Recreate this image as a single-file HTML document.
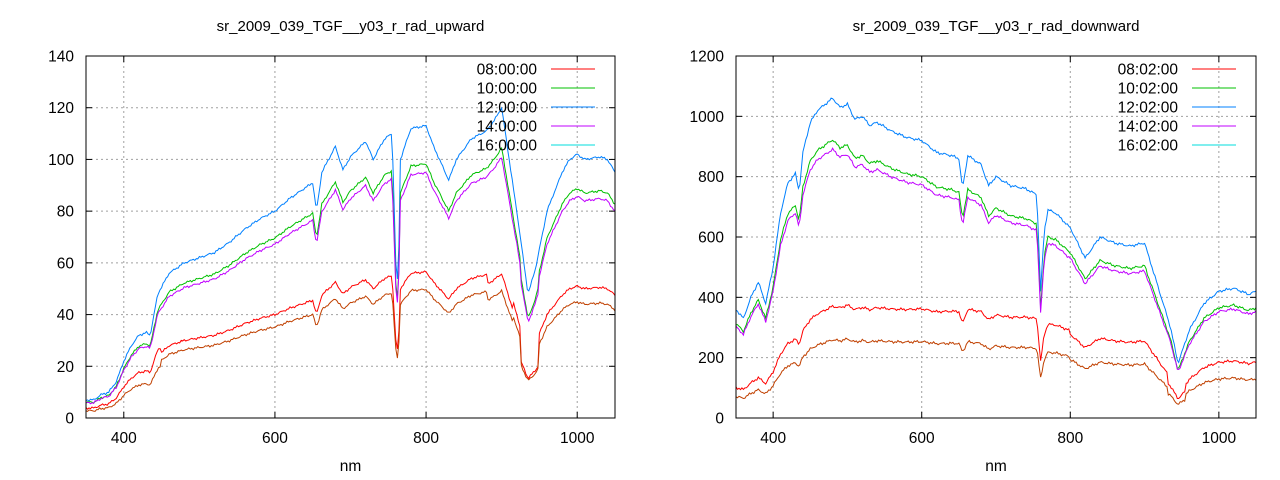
<!DOCTYPE html>
<html><head><meta charset="utf-8"><style>
html,body{margin:0;padding:0;background:#fff}
svg{display:block;font-family:"Liberation Sans",sans-serif}
</style></head><body>
<svg id="s" width="1280" height="480" xmlns="http://www.w3.org/2000/svg"></svg>
<script>
const S=document.getElementById('s');let h='';
function interp(pts,x){for(let i=0;i<pts.length-1;i++){if(x>=pts[i][0]&&x<=pts[i+1][0]){const t=(x-pts[i][0])/(pts[i+1][0]-pts[i][0]);return pts[i][1]+t*(pts[i+1][1]-pts[i][1]);}}return pts[pts.length-1][1];}
function noise(x,k){return Math.sin(x*1.7+k)*0.5+Math.sin(x*0.53+k*2)*0.5;}
function plot(o){
 const X=v=>o.x0+(v-350)/700*(o.x1-o.x0), Y=v=>o.y1-(v/o.ymax)*(o.y1-o.y0);
 h+=`<text x="${(o.x0+o.x1)/2}" y="31" font-size="15" text-anchor="middle">${o.title}</text>`;
 for(const t of [400,600,800,1000]){const x=X(t);h+=`<line x1="${x}" y1="${o.y0}" x2="${x}" y2="${o.y1}" stroke="#a0a0a0" stroke-dasharray="2,3"/>`;
  h+=`<line x1="${x}" y1="${o.y1}" x2="${x}" y2="${o.y1-6}" stroke="#000"/><line x1="${x}" y1="${o.y0}" x2="${x}" y2="${o.y0+6}" stroke="#000"/>`;
  h+=`<text x="${x}" y="${o.y1+25}" font-size="15.5" text-anchor="middle">${t}</text>`;}
 for(let v=0;v<=o.ymax;v+=o.ystep){const y=Y(v);if(v>0&&v<o.ymax)h+=`<line x1="${o.x0}" y1="${y}" x2="${o.x1}" y2="${y}" stroke="#a0a0a0" stroke-dasharray="2,3"/>`;
  h+=`<line x1="${o.x0}" y1="${y}" x2="${o.x0+6}" y2="${y}" stroke="#000"/><line x1="${o.x1}" y1="${y}" x2="${o.x1-6}" y2="${y}" stroke="#000"/>`;
  h+=`<text x="${o.x0-12}" y="${y+5.5}" font-size="15.5" text-anchor="end">${v}</text>`;}
 h+=`<text x="${(o.x0+o.x1)/2}" y="471" font-size="15.5" text-anchor="middle">nm</text>`;
 o.series.forEach((s,k)=>{let d='';for(let n=350;n<=1050;n+=2){let v=interp(o.base,n)*s.r(n)+noise(n,k)*o.nz;v=Math.max(0,v);d+=(n==350?'M':'L')+X(n).toFixed(1)+','+Y(v).toFixed(1);}
  h+=`<path d="${d}" fill="none" stroke="${s.c}" stroke-width="1"/>`;});
 const lc=['#ff0000','#00c000','#0080ff','#c000ff','#00dddd'];
 o.leg.forEach((t,i)=>{const y=69+i*19;h+=`<text x="${o.x1-78}" y="${y+5.5}" font-size="15.5" text-anchor="end">${t}</text><line x1="${o.x1-64}" y1="${y}" x2="${o.x1-20}" y2="${y}" stroke="${lc[i]}"/>`;});
 h+=`<rect x="${o.x0}" y="${o.y0}" width="${o.x1-o.x0}" height="${o.y1-o.y0}" fill="none" stroke="#000"/>`;
}
const baseL=[[350,7],[360,7],[370,9],[380,10],[390,14],[400,22],[410,28],[420,32],[430,33],[435,32],[445,48],[460,56],[480,60],[500,62],[520,64],[540,68],[560,73],[580,77],[600,80],[620,85],[640,89],[650,91],[655,80],[662,95],[680,105],[690,96],[700,101],[720,107],[730,100],[745,108],[755,110],[760,60],[763,50],[766,100],[780,112],[800,113],[810,105],[830,92],[840,100],[860,108],[880,111],[890,115],[900,120],[905,110],[920,80],[935,48],[945,58],[960,80],[980,95],[990,100],[1000,102],[1010,100],[1030,101],[1040,100],[1050,95]];
const hump=n=>(n>880&&n<915)?0.93:1;
plot({x0:86,x1:615,y0:56,y1:418,ymax:140,ystep:20,nz:0.5,title:'sr_2009_039_TGF__y03_r_rad_upward',base:baseL,
 leg:['08:00:00','10:00:00','12:00:00','14:00:00','16:00:00'],
 series:[{c:'#0080ff',r:n=>1},{c:'#00c000',r:n=>n>925&&n<950?0.8:0.87},{c:'#c000ff',r:n=>n>925&&n<950?0.77:0.84},
  {c:'#ff0000',r:n=>hump(n)*(n<450?0.55:(n>925&&n<950?0.32:0.5))},{c:'#c04000',r:n=>hump(n)*(n<450?0.4:(n>925&&n<950?0.3:0.44))}]});
const baseR=[[350,360],[360,330],[370,400],[380,450],[390,380],[400,500],[410,680],[420,780],[430,810],[435,750],[440,880],[450,980],[460,1020],[470,1040],[480,1060],[490,1030],[500,1040],[510,990],[520,1000],[530,970],[540,980],[560,950],[580,930],[600,920],[620,880],[640,870],[650,860],[655,760],[662,870],[680,840],[690,770],[700,800],[720,770],[740,760],[755,740],[760,420],[765,620],[770,690],[780,680],[800,630],[820,530],[840,600],[860,580],[880,570],[900,580],[910,500],[920,420],[935,300],[945,180],[960,290],[980,380],[1000,420],[1020,430],[1040,410],[1050,420]];
const rr=n=>n<500?0.28+(n-350)/150*0.08:(n<800?0.36+(n-500)/300*0.1:0.44);
plot({x0:736,x1:1256,y0:56,y1:418,ymax:1200,ystep:200,nz:5,title:'sr_2009_039_TGF__y03_r_rad_downward',base:baseR,
 leg:['08:02:00','10:02:00','12:02:00','14:02:00','16:02:00'],
 series:[{c:'#0080ff',r:n=>1},{c:'#00c000',r:n=>0.87},{c:'#c000ff',r:n=>0.84},
  {c:'#ff0000',r:n=>rr(n)*(n>930&&n<955?0.8:1)},{c:'#c04000',r:n=>rr(n)*0.7*(n>930&&n<955?0.8:1)}]});
S.innerHTML=h;
</script>
</body></html>
